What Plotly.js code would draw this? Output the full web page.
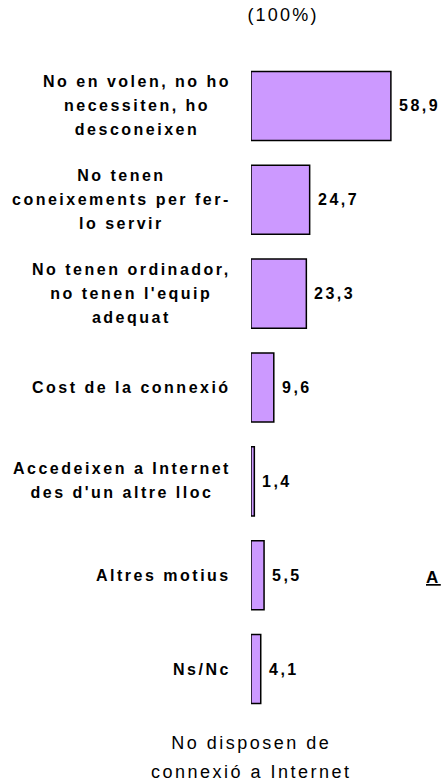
<!DOCTYPE html>
<html><head><meta charset="utf-8">
<script src="https://cdn.plot.ly/plotly-3.0.1.min.js"></script>
<style>
html,body{margin:0;padding:0;background:#fff;}
#chart{width:441px;height:783px;}
.annotation-text{letter-spacing:2.5px;}
.gtitle{letter-spacing:2.2px;}
</style></head><body><div id="chart"></div>
<script>
const categories = [
  "No en volen, no ho<br>necessiten, ho<br>desconeixen",
  "No tenen<br>coneixements per fer-<br>lo servir",
  "No tenen ordinador,<br>no tenen l'equip<br>adequat",
  "Cost de la connexió",
  "Accedeixen a Internet<br>des d'un altre lloc",
  "Altres motius",
  "Ns/Nc"
];
const values = [58.9, 24.7, 23.3, 9.6, 1.4, 5.5, 4.1];
const baseLabel = "(100%)";
const seriesLabel = "No disposen de<br>connexió a Internet";
const cutLabel = "A";

const FONT = "Liberation Sans, Arial, sans-serif";
const fmt = v => v.toFixed(1).replace('.', ',');

const trace = {
  type: 'bar', orientation: 'h',
  x: values, y: categories,
  marker: {color: '#CC99FF', line: {color: '#000000', width: 1.5}},
  hoverinfo: 'none'
};

const annotations = [];
categories.forEach((c, i) => {
  annotations.push({
    x: 0, y: c, xref: 'x', yref: 'y', xanchor: 'right', yanchor: 'middle',
    xshift: -18, align: 'center', showarrow: false, text: '<b>' + c + '</b>',
    font: {family: FONT, size: 16, color: '#000'}
  });
  annotations.push({
    x: values[i], y: c, xref: 'x', yref: 'y', xanchor: 'left', yanchor: 'middle',
    xshift: 6, showarrow: false, text: '<b>' + fmt(values[i]) + '</b>',
    font: {family: FONT, size: 16, color: '#000'}
  });
});
annotations.push({
  x: 0.005, y: -0.0635, xref: 'paper', yref: 'paper', xanchor: 'center', yanchor: 'middle',
  showarrow: false, align: 'center', text: seriesLabel,
  font: {family: FONT, size: 18, color: '#000'}
});
annotations.push({
  x: 0.958, y: 0.211, xref: 'paper', yref: 'paper', xanchor: 'center', yanchor: 'middle',
  showarrow: false, text: '<b><u>' + cutLabel + '</u></b>',
  font: {family: FONT, size: 17, color: '#000'}
});

const layout = {
  width: 441, height: 783,
  margin: {l: 251, r: 0, t: 59, b: 67.4},
  paper_bgcolor: '#fff', plot_bgcolor: '#fff',
  showlegend: false,
  bargap: 0.264,
  title: {text: baseLabel, x: 283/441, xanchor: 'center', y: 1 - 15/783, yanchor: 'middle',
          font: {family: FONT, size: 18, color: '#000'}},
  xaxis: {range: [0, 80], visible: false, fixedrange: true},
  yaxis: {type: 'category', range: [6.5, -0.5], showticklabels: false, showgrid: false,
          zeroline: false, showline: false, ticks: '', fixedrange: true},
  annotations: annotations
};

Plotly.newPlot('chart', [trace], layout, {displayModeBar: false, staticPlot: true}).then(gd => {
  // widen line spacing of multi-line labels, keeping each block centred
  gd.querySelectorAll('.annotation-text').forEach(t => {
    const lines = t.querySelectorAll('tspan.line');
    const n = lines.length;
    if (n < 2) return;
    const fs = parseFloat(t.style.fontSize) || 16;
    const L = fs >= 17 ? 1.58 : 1.5;
    lines.forEach((ln, k) => ln.setAttribute('dy', (k * L - (n - 1) * (L - 1.3) / 2) + 'em'));
  });
});
</script></body></html>
